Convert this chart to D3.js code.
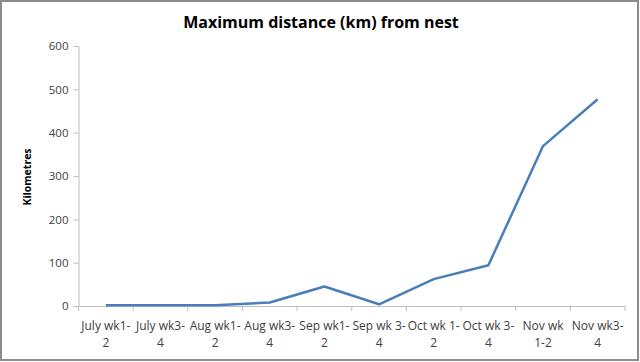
<!DOCTYPE html>
<html><head><meta charset="utf-8">
<script src="https://cdn.jsdelivr.net/npm/d3@7"></script>
<style>body{margin:0;background:#fff}svg{display:block}</style>
</head><body>
<svg id="c" width="640" height="362"></svg>
<script>
const categories = [["July wk1-","2"],["July wk3-","4"],["Aug wk1-","2"],["Aug wk3-","4"],["Sep wk1-","2"],["Sep wk 3-","4"],["Oct wk 1-","2"],["Oct wk 3-","4"],["Nov wk","1-2"],["Nov wk3-","4"]];
const values = [2, 2, 2, 8, 45, 4, 62, 94, 369, 477];
const yTicks = [0, 100, 200, 300, 400, 500, 600];
const title = "Maximum distance (km) from nest";
const yTitle = "Kilometres";

const svg = d3.select("#c");
const font = "'Open Sans', 'Liberation Sans', sans-serif";
svg.append("rect").attr("x",1).attr("y",1).attr("width",637).attr("height",359)
  .attr("fill","#fff").attr("stroke","#8c8c8c").attr("stroke-width",2);

const m = {l:78.5, r:625, t:46, b:306};
const x = d3.scaleBand().domain(d3.range(categories.length)).range([m.l, m.r]);
const y = d3.scaleLinear().domain([0,600]).range([m.b, m.t]);

// y axis
const ya = svg.append("g").attr("transform",`translate(${m.l},0)`)
  .call(d3.axisLeft(y).tickValues(yTicks).tickSize(5).tickPadding(5));
ya.select(".domain").attr("stroke","#bfbfbf");
ya.selectAll(".tick line").attr("stroke","#bfbfbf");
ya.selectAll("text").attr("font-family",font).attr("font-size",11.5).attr("fill","#404040");

// x axis
const xa = svg.append("g").attr("transform",`translate(0,${m.b})`)
  .call(d3.axisBottom(x).tickSize(0).tickFormat(""));
xa.select(".domain").attr("stroke","#bfbfbf");
xa.selectAll(".tick").remove();
const edges = d3.range(categories.length+1).map(i => m.l + i*x.step());
xa.selectAll("line.edge").data(edges).enter().append("line")
  .attr("x1",d=>d).attr("x2",d=>d).attr("y1",0).attr("y2",5).attr("stroke","#bfbfbf");
const lab = svg.append("g").selectAll("text").data(categories).enter().append("text")
  .attr("text-anchor","middle").attr("font-family",font).attr("font-size",12).attr("fill","#404040");
lab.each(function(d,i){
  const t = d3.select(this);
  d.forEach((s,j)=>t.append("tspan").attr("x", x(i)+x.bandwidth()/2).attr("y", 330 + j*17).text(s));
});

// line
const line = d3.line().x((d,i)=>x(i)+x.bandwidth()/2).y(d=>y(d));
svg.append("path").datum(values).attr("d",line).attr("fill","none")
  .attr("stroke","#4a7ebb").attr("stroke-width",2.5).attr("stroke-linejoin","round");

// titles
svg.append("text").attr("x",321).attr("y",28).attr("text-anchor","middle")
  .attr("font-family",font).attr("font-weight","bold").attr("font-size",16).attr("fill","#000").text(title);
svg.append("text").attr("transform","translate(31,177) rotate(-90)").attr("text-anchor","middle")
  .attr("font-family",font).attr("font-weight","bold").attr("font-size",10.5).attr("fill","#000").text(yTitle);
</script>
</body></html>
